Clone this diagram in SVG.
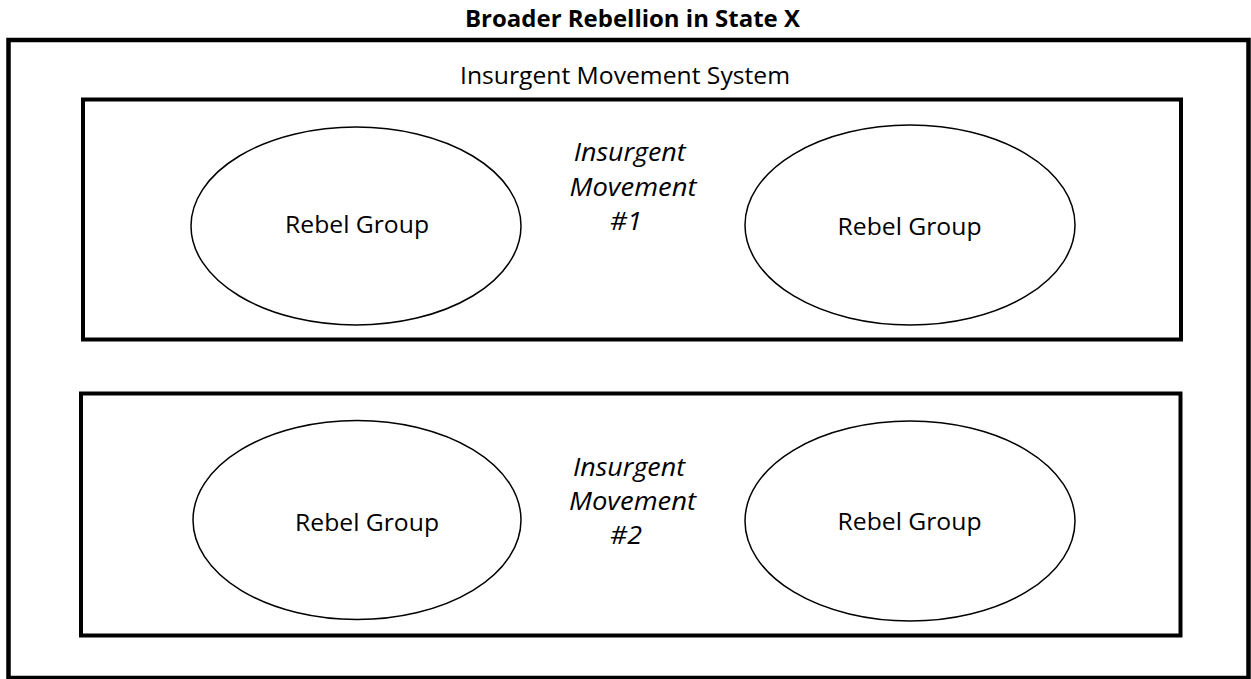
<svg xmlns="http://www.w3.org/2000/svg" width="1251" height="679" viewBox="0 0 1251 679">
<style>
.box{fill:none;stroke:#000;stroke-width:4}
.outer{fill:none;stroke:#000;stroke-width:4.5}
.ell{fill:#fff;stroke:#000;stroke-width:1.5}
text{font-family:"Open Sans","Noto Sans","Liberation Sans",sans-serif;fill:#000;text-anchor:middle}
.t{font-size:24px}
.title{font-size:23px;font-weight:bold}
.it{font-size:25px;font-style:italic}
</style>
<rect width="1251" height="679" fill="#fff"/>
<g id="broader-rebellion">
<rect class="outer" x="8.5" y="40" width="1240" height="638"/>
<text class="title" x="632.5" y="26.5" textLength="335" lengthAdjust="spacingAndGlyphs">Broader Rebellion in State X</text>
<text class="t" x="625" y="83.5" textLength="330" lengthAdjust="spacingAndGlyphs">Insurgent Movement System</text>
</g>
<g id="movement-1">
<rect class="box" x="83" y="99.5" width="1098" height="240"/>
<text class="it" x="629.7" y="161" textLength="112" lengthAdjust="spacingAndGlyphs">Insurgent</text>
<text class="it" x="633" y="195.5" textLength="127" lengthAdjust="spacingAndGlyphs">Movement</text>
<text class="it" x="626" y="230" textLength="32" lengthAdjust="spacingAndGlyphs">#1</text>
</g>
<g id="rebel-1a">
<ellipse class="ell" cx="356" cy="226" rx="165" ry="99"/>
<text class="t" x="357" y="233" textLength="144" lengthAdjust="spacingAndGlyphs">Rebel Group</text>
</g>
<g id="rebel-1b">
<ellipse class="ell" cx="910" cy="225" rx="165" ry="100"/>
<text class="t" x="909.5" y="234.5" textLength="144" lengthAdjust="spacingAndGlyphs">Rebel Group</text>
</g>
<g id="movement-2">
<rect class="box" x="81" y="393.5" width="1099.5" height="242"/>
<text class="it" x="629" y="475.5" textLength="112" lengthAdjust="spacingAndGlyphs">Insurgent</text>
<text class="it" x="632.5" y="510" textLength="127" lengthAdjust="spacingAndGlyphs">Movement</text>
<text class="it" x="626" y="544" textLength="32" lengthAdjust="spacingAndGlyphs">#2</text>
</g>
<g id="rebel-2a">
<ellipse class="ell" cx="357" cy="520" rx="164" ry="99.5"/>
<text class="t" x="367" y="531" textLength="144" lengthAdjust="spacingAndGlyphs">Rebel Group</text>
</g>
<g id="rebel-2b">
<ellipse class="ell" cx="910" cy="521" rx="165" ry="100"/>
<text class="t" x="909.5" y="530" textLength="144" lengthAdjust="spacingAndGlyphs">Rebel Group</text>
</g>
<g id="connectors"/>
</svg>
